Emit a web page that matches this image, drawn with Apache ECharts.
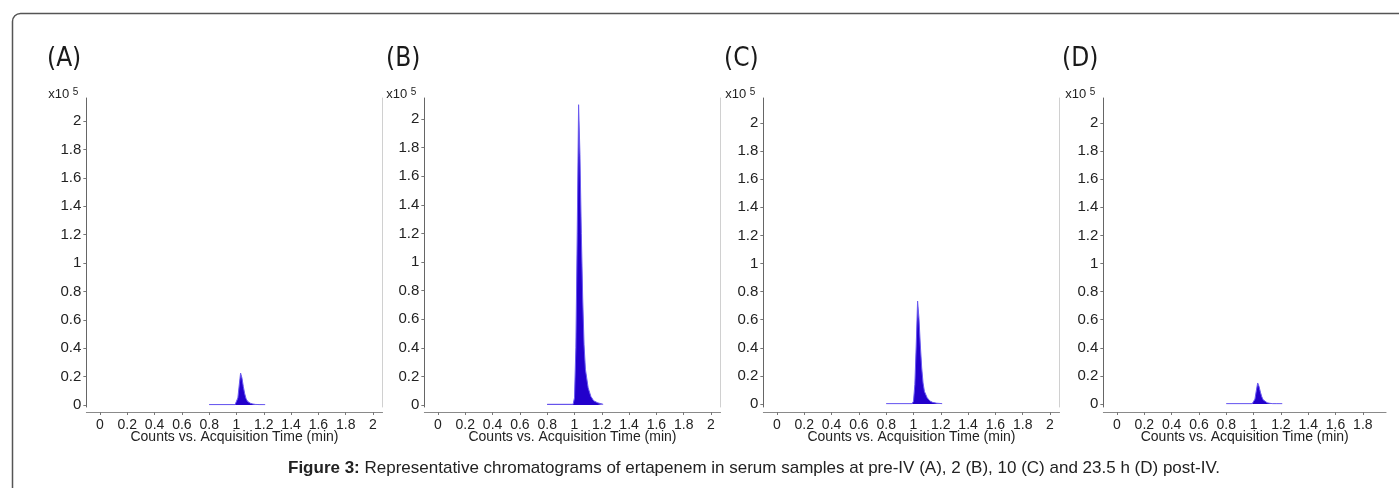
<!DOCTYPE html>
<html>
<head>
<meta charset="utf-8">
<title>Figure 3 chromatograms</title>
<script src="https://cdn.jsdelivr.net/npm/echarts@6/dist/echarts.min.js"></script>
<style>
  html, body { margin: 0; padding: 0; background: #fff; }
  #main { width: 1399px; height: 488px; }
</style>
</head>
<body>
<div id="main"></div>
<script>
// retention time (min) of the sampled points around the ertapenem peak
const times = [0.8, 0.99, 1.0, 1.01, 1.02, 1.03, 1.04, 1.05, 1.06, 1.07, 1.08, 1.1, 1.12, 1.14, 1.17, 1.21];
// counts (x10^5) for each sample
const countsA = [0.003, 0.003, 0.01, 0.05, 0.14, 0.225, 0.19, 0.13, 0.08, 0.045, 0.027, 0.013, 0.007, 0.004, 0.003, 0.003];
const countsB = [0.005, 0.005, 0.05, 0.4, 1.2, 2.1, 1.75, 1.2, 0.75, 0.42, 0.25, 0.12, 0.06, 0.03, 0.015, 0.005];
const countsC = [0.003, 0.003, 0.02, 0.14, 0.42, 0.733, 0.61, 0.42, 0.26, 0.15, 0.09, 0.045, 0.022, 0.012, 0.006, 0.003];
const countsD = [0.003, 0.003, 0.008, 0.035, 0.095, 0.15, 0.125, 0.085, 0.052, 0.03, 0.018, 0.009, 0.005, 0.003, 0.003, 0.003];
const panelLabels = ["(A)", "(B)", "(C)", "(D)"];
const xTicks = [0, 0.2, 0.4, 0.6, 0.8, 1, 1.2, 1.4, 1.6, 1.8, 2];
const yTicks = [0, 0.2, 0.4, 0.6, 0.8, 1, 1.2, 1.4, 1.6, 1.8, 2];
const xName = "Counts vs. Acquisition Time (min)";
const caption = "Representative chromatograms of ertapenem in serum samples at pre-IV (A), 2 (B), 10 (C) and 23.5 h (D) post-IV.";

const allCounts = [countsA, countsB, countsC, countsD];

// layout of the four panels (px)
const panelLeft = [86.35, 424.35, 763.35, 1103.35];
const panelWidth = [296.2, 296.2, 296.2, 282.7];
const xMax = [2.07, 2.07, 2.07, 1.97];
const yMin = [-0.014, -0.014, -0.021, -0.021];
const yMax = [2.162, 2.147, 2.178, 2.178];
const titleLeft = [47, 386, 724, 1062];

const sans = "'Liberation Sans', Arial, sans-serif";
const cond = "'DejaVu Sans Condensed', 'Liberation Sans', sans-serif";

const chart = echarts.init(document.getElementById("main"));

const grids = [];
const xAxes = [];
const yAxes = [];
const series = [];
const titles = [];

allCounts.forEach((counts, i) => {
  grids.push({
    left: panelLeft[i],
    width: panelWidth[i],
    top: 98,
    height: 309,
    outerBoundsMode: "none",
  });
  xAxes.push({
    type: "value",
    gridIndex: i,
    min: -0.1,
    max: xMax[i],
    offset: 5,
    name: xName,
    nameLocation: "middle",
    nameGap: 18,
    nameMoveOverlap: false,
    nameTextStyle: { fontFamily: sans, fontSize: 14, color: "#222" },
    axisLine: { onZero: false, lineStyle: { color: "#8a8a8a", width: 1 } },
    axisTick: { customValues: xTicks, length: 3, lineStyle: { color: "#777" } },
    axisLabel: {
      customValues: xTicks,
      margin: 6,
      fontFamily: sans,
      fontSize: 14,
      color: "#222",
    },
    splitLine: { show: false },
  });
  // left axis with the count scale
  yAxes.push({
    type: "value",
    gridIndex: i,
    min: yMin[i],
    max: yMax[i],
    name: "x10 {s|5}",
    nameLocation: "end",
    nameGap: -4,
    nameTextStyle: {
      align: "right",
      verticalAlign: "bottom",
      padding: [0, 8, 0, 0],
      fontFamily: sans,
      fontSize: 13,
      color: "#222",
      rich: { s: { fontFamily: sans, fontSize: 10, color: "#222", verticalAlign: "top", padding: [0, 0, 5, 0] } },
    },
    axisLine: { show: true, onZero: false, lineStyle: { color: "#666", width: 1 } },
    axisTick: { show: true, customValues: yTicks, length: 3, lineStyle: { color: "#777" } },
    axisLabel: {
      customValues: yTicks,
      margin: 5,
      fontFamily: sans,
      fontSize: 15,
      color: "#222",
    },
    splitLine: { show: false },
  });
  // faint frame line on the right side
  yAxes.push({
    type: "value",
    gridIndex: i,
    position: "right",
    min: yMin[i],
    max: yMax[i],
    axisLine: { show: i < 3, onZero: false, lineStyle: { color: "#d0d0d0", width: 1 } },
    axisTick: { show: false },
    axisLabel: { show: false },
    splitLine: { show: false },
  });
  series.push({
    type: "line",
    xAxisIndex: i,
    yAxisIndex: i * 2,
    data: times.map((t, k) => [t, counts[k]]),
    symbol: "none",
    smooth: false,
    lineStyle: { color: "#6a5af0", width: 1 },
    areaStyle: { color: "#2200cc", opacity: 1 },
  });
  titles.push({
    text: panelLabels[i],
    left: titleLeft[i],
    top: 46,
    padding: 0,
    textStyle: { fontFamily: cond, fontSize: 26, fontWeight: "normal", color: "#1a1a1a" },
  });
});

// figure caption under the panels
titles.push({
  text: "{b|Figure 3:} " + caption,
  left: 288,
  top: 460,
  padding: 0,
  textStyle: {
    fontFamily: sans,
    fontSize: 17,
    fontWeight: "normal",
    color: "#222",
    rich: { b: { fontFamily: sans, fontSize: 17, fontWeight: "bold", color: "#222" } },
  },
});

const option = {
  animation: false,
  backgroundColor: "#fff",
  title: titles,
  grid: grids,
  xAxis: xAxes,
  yAxis: yAxes,
  series: series,
  graphic: [
    {
      type: "rect",
      shape: { x: 12.5, y: 13.5, width: 1420, height: 520, r: 8 },
      style: { fill: "none", stroke: "#555", lineWidth: 1.5 },
      silent: true,
    },
  ],
};

chart.setOption(option);
</script>
</body>
</html>
